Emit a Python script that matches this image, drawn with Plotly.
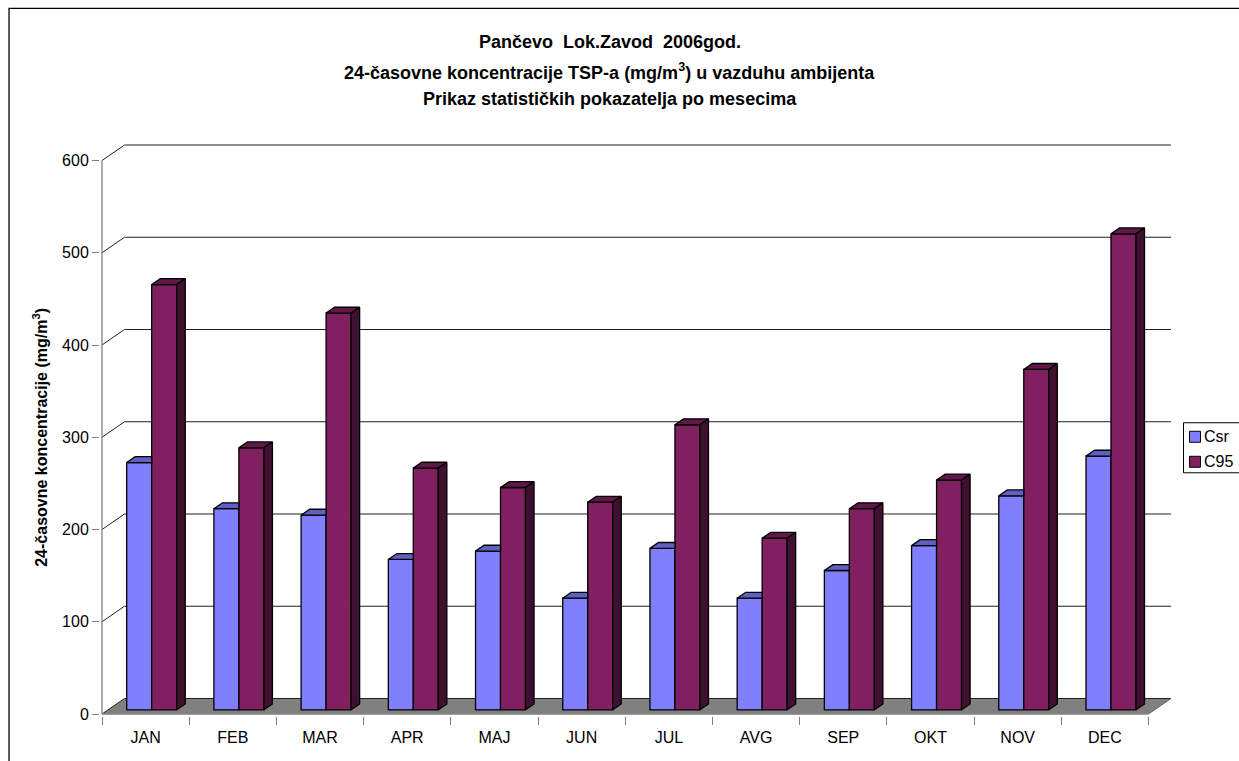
import plotly.graph_objects as go

# data
months = ["JAN", "FEB", "MAR", "APR", "MAJ", "JUN", "JUL", "AVG", "SEP", "OKT", "NOV", "DEC"]
csr = [268, 218, 211, 163, 172, 121, 175, 121, 151, 178, 232, 275]
c95 = [461, 284, 430, 262, 241, 225, 309, 186, 218, 249, 369, 516]
y_ticks = [0, 100, 200, 300, 400, 500, 600]
series_names = ["Csr", "C95"]
front_colors = ["#8080FF", "#802060"]

W, H = 1239, 761
FONT = "Arial, Liberation Sans, sans-serif"

# geometry of the pseudo-3d box (front plane pixels)
X0_PX, Y0_PX = 102, 714          # where x=-0.5, y=0 sit
UX = 87.25                       # px per category
UY = 0.9217                      # px per unit
DX = 22.5 / UX                   # depth offset of back wall (data units)
DY = 15.5 / UY
F = 0.27                         # depth of bar front face
BD = 0.38                        # bar depth
BW = 25 / UX                     # bar width
PAD = 2
ymax = y_ticks[-1]
n = len(months)
idx = list(range(n))

x_lo = -0.5 - PAD / UX
x_hi = n - 0.5 + DX + PAD / UX
y_lo = -PAD / UY
y_hi = ymax + DY + PAD / UY

l = X0_PX - PAD
plot_w = (x_hi - x_lo) * UX
r = W - l - plot_w
b = H - (Y0_PX + PAD)
plot_h = (y_hi - y_lo) * UY
t = H - b - plot_h


def px(xp):
    return (xp - l) / plot_w


def py(yp):
    return (H - b - yp) / plot_h


base = F * DY
fig = go.Figure()

fig.add_bar(x=idx, y=csr, base=base, width=BW, offset=F * DX - BW, name=series_names[0],
            marker=dict(color=front_colors[0], line=dict(color="black", width=1.3)))
fig.add_bar(x=idx, y=c95, base=base, width=BW, offset=F * DX, name=series_names[1],
            marker=dict(color=front_colors[1], line=dict(color="black", width=1.3)))

# top / side faces
csr_top_x, csr_top_y = [], []
c95_top_x, c95_top_y = [], []
c95_side_x, c95_side_y = [], []
ddx, ddy = BD * DX, BD * DY
for i in idx:
    x0 = i + F * DX - BW
    x1 = i + F * DX
    tp = base + csr[i]
    csr_top_x += [x0, x1, x1, x0 + ddx, x0, None]
    csr_top_y += [tp, tp, tp + ddy, tp + ddy, tp, None]
    x0, x1 = i + F * DX, i + F * DX + BW
    tp = base + c95[i]
    c95_top_x += [x0, x1, x1 + ddx, x0 + ddx, x0, None]
    c95_top_y += [tp, tp, tp + ddy, tp + ddy, tp, None]
    c95_side_x += [x1, x1, x1 + ddx, x1 + ddx, x1, None]
    c95_side_y += [base, tp, tp + ddy, base + ddy, base, None]

for xs, ys, col in [(csr_top_x, csr_top_y, "#6060C0"),
                    (c95_top_x, c95_top_y, "#601848"),
                    (c95_side_x, c95_side_y, "#401030")]:
    fig.add_scatter(x=xs, y=ys, mode="lines", fill="toself", fillcolor=col,
                    line=dict(color="black", width=1.3), showlegend=False,
                    hoverinfo="skip")

# dummy trace for the boundary tick axis
fig.add_scatter(x=[0], y=[0], xaxis="x2", mode="markers", marker=dict(opacity=0),
                showlegend=False, hoverinfo="skip")

shapes = []
# floor
shapes.append(dict(type="path", xref="x", yref="y", layer="below",
                   path=f"M {-0.5},0 L {n - 0.5},0 L {n - 0.5 + DX},{DY} L {-0.5 + DX},{DY} Z",
                   fillcolor="#808080", line=dict(width=0)))
# back wall grid + left wall diagonals
for v in y_ticks:
    shapes.append(dict(type="line", xref="x", yref="y", layer="below",
                       x0=-0.5 + DX, x1=n - 0.5 + DX, y0=v + DY, y1=v + DY,
                       line=dict(color="#202020", width=1)))
    shapes.append(dict(type="line", xref="x", yref="y", layer="below",
                       x0=-0.5, x1=-0.5 + DX, y0=v, y1=v + DY,
                       line=dict(color="#202020", width=1)))
# floor right edge and front edges
shapes.append(dict(type="line", xref="x", yref="y", layer="below",
                   x0=n - 0.5, x1=n - 0.5 + DX, y0=0, y1=DY,
                   line=dict(color="#606060", width=1)))
shapes.append(dict(type="line", xref="x", yref="y", layer="below",
                   x0=-0.5, x1=n - 0.5, y0=0, y1=0,
                   line=dict(color="#808080", width=1.3)))
shapes.append(dict(type="line", xref="x", yref="y", layer="below",
                   x0=-0.5, x1=-0.5, y0=0, y1=ymax,
                   line=dict(color="#808080", width=1.3)))
# outer chart frame
shapes.append(dict(type="rect", xref="paper", yref="paper",
                   x0=px(9), x1=px(W + 20), y0=py(H + 20), y1=py(9),
                   line=dict(color="black", width=1.3)))

# legend box (drawn by hand to match the original placement)
shapes.append(dict(type="rect", xref="paper", yref="paper",
                   x0=px(1184), x1=px(W + 20), y0=py(473), y1=py(423),
                   line=dict(color="black", width=1), fillcolor="white"))
annotations = []
for k, (name, col) in enumerate(zip(series_names, front_colors)):
    yc = 437 + 25 * k
    shapes.append(dict(type="rect", xref="paper", yref="paper",
                       x0=px(1190), x1=px(1201), y0=py(yc + 5.5), y1=py(yc - 5.5),
                       line=dict(color="black", width=1), fillcolor=col))
    annotations.append(dict(text=name, xref="paper", yref="paper", x=px(1203), y=py(yc),
                            xanchor="left", yanchor="middle", showarrow=False,
                            font=dict(family=FONT, size=16, color="black")))

title_lines = [
    ("Pančevo  Lok.Zavod  2006god.", 43),
    ("24-časovne koncentracije TSP-a (mg/m<sup>3</sup>) u vazduhu ambijenta", 72),
    ("Prikaz statističkih pokazatelja po mesecima", 100),
]
for txt, yp in title_lines:
    annotations.append(dict(text="<b>" + txt + "</b>", xref="paper", yref="paper",
                            x=px(610), y=py(yp), xanchor="center", yanchor="middle",
                            showarrow=False, font=dict(family=FONT, size=18, color="black")))
annotations.append(dict(text="<b>24-časovne koncentracije (mg/m<sup>3</sup>)</b>",
                        xref="paper", yref="paper", x=px(40), y=py(438),
                        xanchor="center", yanchor="middle", textangle=-90,
                        showarrow=False, font=dict(family=FONT, size=16, color="black")))

fig.update_layout(
    width=W, height=H,
    margin=dict(l=l, r=r, t=t, b=b, pad=0, autoexpand=False),
    paper_bgcolor="white", plot_bgcolor="rgba(0,0,0,0)",
    barmode="overlay",
    showlegend=False,
    xaxis=dict(range=[x_lo, x_hi], tickvals=idx, ticktext=months,
               ticks="outside", ticklen=7, tickcolor="rgba(0,0,0,0)",
               showgrid=False, zeroline=False, showline=False,
               tickfont=dict(family=FONT, size=16, color="black")),
    xaxis2=dict(range=[x_lo, x_hi], overlaying="x", anchor="y", side="bottom",
                tickvals=[i - 0.5 for i in range(n + 1)], ticks="outside", ticklen=8,
                tickcolor="#808080", tickwidth=1.3, showticklabels=False,
                showgrid=False, zeroline=False, showline=False),
    yaxis=dict(range=[y_lo, y_hi], tickvals=y_ticks, ticks="outside", ticklen=7,
               tickcolor="#808080", tickwidth=1.3, showgrid=False, zeroline=False,
               showline=False, tickfont=dict(family=FONT, size=16, color="black")),
    shapes=shapes,
    annotations=annotations,
)

fig.write_html("out.html", config={"displayModeBar": False},
               post_script="document.body.style.margin='0';document.body.style.overflow='hidden';")
